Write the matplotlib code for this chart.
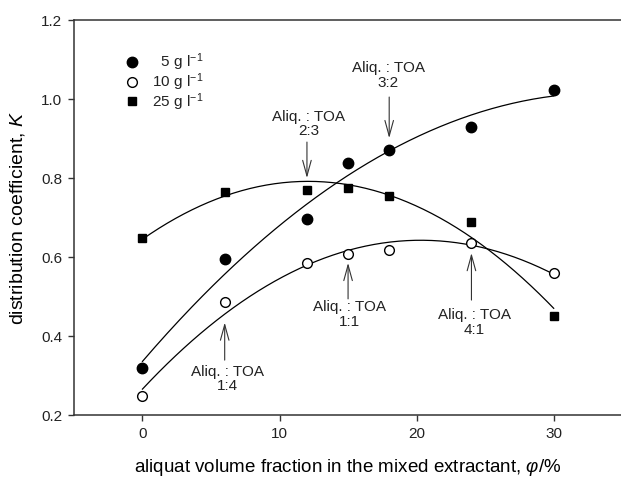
import matplotlib
matplotlib.use("Agg")
import matplotlib.pyplot as plt
import numpy as np

INK = "#222222"

# aliquat volume fraction (%) and distribution coefficients per concentration
phi = [0, 6, 12, 15, 18, 24, 30]
k_5 = [0.319, 0.594, 0.695, 0.837, 0.871, 0.930, 1.023]
k_10 = [0.249, 0.487, 0.584, 0.607, 0.618, 0.636, 0.560]
k_25 = [0.647, 0.765, 0.770, 0.774, 0.754, 0.689, 0.451]

# Aliq. : TOA ratio call-outs
ratios = ["2:3", "3:2", "1:4", "1:1", "4:1"]
ratio_phi = [12, 18, 6, 15, 24]
ratio_tip = [0.800, 0.901, 0.434, 0.585, 0.610]
ratio_tail = [0.891, 1.005, 0.339, 0.494, 0.491]
ratio_text_x = [12.1, 17.95, 6.2, 15.1, 24.2]
ratio_text_y = [0.901, 1.023, 0.327, 0.490, 0.471]

plt.rcParams.update({
    "font.family": "Liberation Sans",
    "mathtext.fontset": "custom",
    "mathtext.rm": "Liberation Sans",
    "mathtext.it": "Liberation Sans:italic",
    "text.color": INK,
    "axes.edgecolor": "#333333",
    "xtick.color": "#333333",
    "ytick.color": "#333333",
    "xtick.labelcolor": INK,
    "ytick.labelcolor": INK,
})

fig = plt.figure(figsize=(6.21, 4.79), dpi=100)
ax = fig.add_axes([0.119, 0.1336, 0.883, 0.8246])

xs = np.linspace(0, 30, 200)
for k, mk, face, ms, lab in [
    (k_5, "o", "black", 7.5, "\u2007\u20075 g l$^{-1}$"),
    (k_10, "o", "white", 7.0, "\u200710 g l$^{-1}$"),
    (k_25, "s", "black", 6.3, "\u200725 g l$^{-1}$"),
]:
    fit = np.polyfit(phi, k, 2)
    ax.plot(xs, np.polyval(fit, xs), color="black", lw=0.9, zorder=2)
    ax.plot(phi, k, ls="none", marker=mk, ms=ms, mfc=face, mec="black",
            mew=1.0, zorder=3, label=lab)

for r, x, tip, tail, tx, ty in zip(ratios, ratio_phi, ratio_tip, ratio_tail,
                                   ratio_text_x, ratio_text_y):
    ax.annotate("", xy=(x, tip), xytext=(x, tail),
                arrowprops=dict(arrowstyle="->, head_length=0.8, head_width=0.22",
                                color="#333333", lw=0.8, shrinkA=0, shrinkB=0,
                                mutation_scale=14))
    ax.text(tx, ty, f"Aliq. : TOA\n{r}", ha="center",
            va="bottom" if tail > tip else "top", multialignment="center",
            fontsize=11, linespacing=1.05)

ax.set_xlim(-5, 35)
ax.set_ylim(0.2, 1.2)
ax.set_xticks([0, 10, 20, 30])
ax.set_yticks([0.2, 0.4, 0.6, 0.8, 1.0, 1.2])
ax.yaxis.set_major_formatter(matplotlib.ticker.FormatStrFormatter("%.1f"))
ax.tick_params(direction="out", length=4.5, width=1, labelsize=11, pad=4)
ax.spines["right"].set_visible(False)
for s in ["left", "bottom", "top"]:
    ax.spines[s].set_linewidth(1.1)

ax.set_ylabel(r"distribution coefficient, $K$", fontsize=14, labelpad=10)
ax.set_xlabel(r"aliquat volume fraction in the mixed extractant, $\varphi$/%",
              fontsize=13.5, labelpad=12)

ax.legend(loc="upper left", bbox_to_anchor=(0.092, 0.92), frameon=False,
          fontsize=11, handlelength=1.0, handletextpad=0.3, borderpad=0,
          borderaxespad=0, labelspacing=-0.12, numpoints=1)

fig.savefig("out.png", dpi=100)
